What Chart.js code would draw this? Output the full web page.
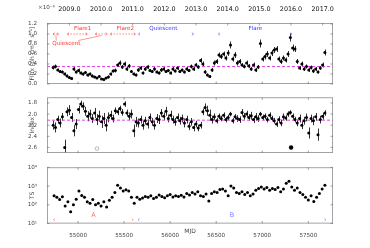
<!DOCTYPE html>
<html><head><meta charset="utf-8">
<script src="https://cdn.jsdelivr.net/npm/chart.js@4"></script>
<style>
html,body{margin:0;padding:0;background:#fff;}
#wrap{position:relative;width:370px;height:248px;overflow:hidden;background:#fff;}
canvas{position:absolute;left:0;}
</style></head><body>
<div id="wrap">
<canvas id="c1" width="370" height="92" style="top:0px"></canvas>
<canvas id="c2" width="370" height="70" style="top:92px"></canvas>
<canvas id="c3" width="370" height="86" style="top:162px"></canvas>
</div>
<script>
// ---------------- DATA ----------------
const mjd = [54730,54755,54780,54805,54830,54855,54880,54905,54930,54955,
54980,55005,55030,55055,55080,55105,55130,55155,55180,55205,
55230,55255,55280,55305,55330,55355,55380,55405,55430,55455,
55480,55505,55530,55555,55580,55605,55630,55655,55680,55705,
55730,55755,55780,55805,55830,55855,55880,55905,55930,55955,
55980,56005,56030,56055,56080,56105,56130,56155,56180,56205,
56230,56255,56280,56305,56330,56355,56380,56405,56430,56455,
56480,56505,56530,56555,56580,56605,56630,56655,56680,56705,
56730,56755,56780,56805,56830,56855,56880,56905,56930,56955,
56980,57005,57030,57055,57080,57105,57130,57155,57180,57205,
57230,57255,57280,57305,57330,57355,57380,57405,57430,57455,
57480,57505,57530,57555,57580,57605,57630,57655,57680];
// flux in units of 1e-6 ph cm^-2 s^-1
const fluxE6 = [0.33,0.35,0.28,0.25,0.24,0.2,0.16,0.13,0.11,0.3,
0.24,0.27,0.22,0.2,0.23,0.18,0.2,0.16,0.14,0.12,
0.15,0.1,0.09,0.12,0.14,0.2,0.26,0.27,0.38,0.42,
0.34,0.4,0.3,0.36,0.25,0.2,0.18,0.28,0.32,0.22,
0.3,0.34,0.27,0.25,0.3,0.24,0.22,0.28,0.3,0.25,
0.27,0.22,0.3,0.26,0.32,0.25,0.28,0.24,0.3,0.27,
0.35,0.3,0.38,0.34,0.47,0.4,0.24,0.18,0.15,0.28,
0.42,0.45,0.58,0.55,0.6,0.52,0.62,0.78,0.5,0.58,
0.42,0.45,0.38,0.35,0.42,0.36,0.3,0.38,0.28,0.34,
0.81,0.5,0.55,0.6,0.52,0.62,0.68,0.7,0.5,0.45,
0.52,0.48,0.6,0.93,0.72,0.7,0.45,0.32,0.4,0.3,
0.35,0.28,0.33,0.26,0.3,0.24,0.32,0.38,0.63];
const fluxErrE6 = [0.04,0.04,0.03,0.03,0.03,0.03,0.03,0.03,0.02,0.04,
0.03,0.04,0.03,0.03,0.03,0.03,0.03,0.03,0.02,0.02,
0.03,0.02,0.02,0.02,0.03,0.03,0.03,0.04,0.04,0.05,
0.04,0.05,0.04,0.04,0.03,0.03,0.03,0.04,0.04,0.03,
0.04,0.04,0.03,0.03,0.04,0.03,0.03,0.04,0.04,0.03,
0.03,0.03,0.04,0.03,0.04,0.03,0.03,0.03,0.04,0.03,
0.04,0.04,0.04,0.04,0.05,0.05,0.04,0.03,0.03,0.04,
0.05,0.05,0.05,0.05,0.05,0.05,0.06,0.07,0.05,0.06,
0.05,0.05,0.04,0.04,0.05,0.04,0.04,0.05,0.04,0.04,
0.08,0.05,0.06,0.06,0.05,0.06,0.06,0.06,0.05,0.05,
0.05,0.05,0.06,0.08,0.07,0.06,0.05,0.04,0.05,0.04,
0.04,0.04,0.04,0.04,0.04,0.03,0.04,0.05,0.06];
const photonIndex = [2.2,2.24,2.1,2.16,2.05,2.6,1.96,1.93,2.06,2.3,
2.18,1.92,1.82,1.86,1.95,2.04,2.0,2.08,1.98,2.1,
2.04,2.14,2.08,2.2,2.06,2.02,2.08,1.94,1.96,1.9,
1.97,1.82,1.98,2.04,2.0,2.3,2.14,2.16,2.1,2.2,
2.12,2.18,2.06,2.14,2.2,2.08,2.1,1.98,2.04,1.95,
2.08,2.02,2.1,2.14,2.06,2.12,2.08,2.16,2.1,2.22,
2.14,2.24,2.18,2.25,2.2,1.96,1.88,1.94,2.02,2.1,
2.05,2.12,2.04,2.08,2.02,2.1,2.06,2.0,2.12,2.05,
2.08,2.1,1.97,2.04,2.0,2.06,2.03,2.1,2.05,2.08,
2.0,2.06,2.04,2.1,2.02,2.08,2.12,2.18,2.1,2.16,
2.05,2.07,2.0,1.97,2.04,2.1,2.16,2.08,2.2,2.12,
2.06,2.34,2.08,2.12,2.05,2.37,2.1,2.04,1.98];
const indexErr = [0.08,0.09,0.07,0.08,0.07,0.14,0.08,0.09,0.08,0.1,
0.09,0.07,0.06,0.07,0.08,0.09,0.08,0.08,0.09,0.1,
0.1,0.11,0.1,0.11,0.09,0.08,0.07,0.06,0.06,0.05,
0.06,0.05,0.06,0.07,0.08,0.11,0.09,0.08,0.07,0.08,
0.07,0.08,0.07,0.07,0.08,0.08,0.08,0.07,0.07,0.08,
0.07,0.08,0.07,0.07,0.07,0.07,0.07,0.08,0.07,0.07,
0.07,0.07,0.06,0.06,0.06,0.06,0.07,0.09,0.1,0.07,
0.06,0.05,0.05,0.05,0.05,0.05,0.05,0.04,0.05,0.05,
0.06,0.06,0.06,0.06,0.06,0.06,0.07,0.06,0.07,0.06,
0.04,0.05,0.05,0.05,0.05,0.05,0.05,0.05,0.06,0.06,
0.06,0.05,0.05,0.04,0.05,0.05,0.06,0.07,0.07,0.07,
0.07,0.1,0.07,0.08,0.07,0.11,0.07,0.06,0.05];
const specialFilled = [{x:57313, y:2.6}];
const specialOpen = [{x:55206, y:2.62}];
const tsMjd = [54740,54770,54800,54830,54860,54890,54920,54950,54980,55010,
55040,55070,55100,55130,55160,55190,55220,55250,55280,55310,
55340,55370,55400,55430,55460,55490,55520,55550,55580,55610,
55640,55670,55700,55730,55760,55790,55820,55850,55880,55910,
55940,55970,56000,56030,56060,56090,56120,56150,56180,56210,
56240,56270,56300,56330,56360,56390,56420,56450,56480,56510,
56540,56570,56600,56630,56660,56690,56720,56750,56780,56810,
56840,56870,56900,56930,56960,56990,57020,57050,57080,57110,
57140,57170,57200,57230,57260,57290,57320,57350,57380,57410,
57440,57470,57500,57530,57560,57590,57620,57650,57680];
const tsValues = [300,250,190,270,85,145,43,100,200,540,
310,250,145,120,190,100,120,85,145,75,
175,250,450,1100,780,540,630,540,250,120,
250,200,230,280,250,300,220,250,330,280,
240,300,350,260,300,280,320,260,400,330,
450,380,500,300,280,380,160,400,500,450,
650,700,550,300,1000,800,450,400,500,350,
450,300,380,600,750,900,700,850,600,750,
650,850,500,700,1400,1800,900,600,800,450,
350,250,180,300,150,250,400,700,1100];
const mjdTicks = [55000,55500,56000,56500,57000,57500];
const yearTickMjd = [54906,55250,55593,55937,56281,56625,56968,57312,57656];
const yearLabels = ['2009.0','2010.0','2011.0','2012.0','2013.0','2014.0','2015.0','2016.0','2017.0'];
const fluxTicks = [0.0,0.2,0.4,0.6,0.8,1.0,1.2];
const indexTicks = [1.8,2.0,2.2,2.4,2.6];
const tsTicks = [10,100,1000,10000];
const tsTickLabels = ['10\u00B9','10\u00B2','10\u00B3','10\u2074'];
const fluxMean = 0.35;
const indexMean = 2.11;
// analysis phases (top panel)
const phaseNames = ['Quiescent','Flare1','Quiescent','Flare2','Quiescent','Flare'];
const phaseGroup = ['A','A','A','A','B','B'];
const phaseStart = [54729,54884,55188,55351,55655,56523];
const phaseEnd   = [54790,55101,55318,55622,56253,57323];
const phaseLabelMjd = [54873,55050,54873,55514,55926,56925];
// analysis periods (bottom panel)
const periodNames = ['A','B'];
const periodStart = [54732,55651];
const periodEnd   = [55600,57692];

// ---------------- STYLE / LAYOUT ----------------
const X_MIN = 54663, X_MAX = 57768;
const FONT = "'DejaVu Sans', sans-serif";
const groupColor = {A:'#ff3030', B:'#3a3aff'};
const groupLight = {A:'#ff6a6a', B:'#7a7aff'};
const tickFont = {family: FONT, size: 5.6};
const titleFont = {family: FONT, size: 6};

function fixedX(h, extra) {
  return Object.assign({
    type:'linear', position:'bottom', min:X_MIN, max:X_MAX,
    grid:{display:false}, border:{display:false},
    afterBuildTicks(s){ s.ticks = mjdTicks.map(v=>({value:v})); },
    afterFit(s){ s.height = h; s.paddingLeft = 0; s.paddingRight = 0; },
    ticks:{font:tickFont, color:'#444', padding:1, autoSkip:false, maxRotation:0, callback:v=>String(v)}
  }, extra||{});
}
function fixedY(title, pad) {
  return {
    grid:{display:false}, border:{display:false},
    afterFit(s){ s.width = 47; },
    title:{display:true, text:title, font:titleFont, color:'#444', padding:{top:pad, bottom:0}}
  };
}

function makePlugin(cfg) {
  return {
    id:'deco'+Math.random().toString(36).slice(2),
    beforeDatasetsDraw(chart){
      if (!cfg.err) return;
      const {ctx, chartArea:a} = chart;
      const xs = chart.scales.x, ys = chart.scales.y;
      const ds = chart.data.datasets[0].data;
      ctx.save();
      ctx.beginPath(); ctx.rect(a.left, a.top, a.right-a.left, a.bottom-a.top); ctx.clip();
      ctx.strokeStyle = '#000'; ctx.lineWidth = 0.8;
      ctx.beginPath();
      ds.forEach((p,i)=>{
        const e = cfg.err[i]; const x = Math.round(xs.getPixelForValue(p.x))+0.5;
        ctx.moveTo(x, ys.getPixelForValue(p.y-e));
        ctx.lineTo(x, ys.getPixelForValue(p.y+e));
      });
      ctx.stroke();
      ctx.restore();
    },
    afterDraw(chart){
      const {ctx, chartArea:a} = chart;
      const xs = chart.scales.x, ys = chart.scales.y;
      ctx.save();
      ctx.strokeStyle = '#8c8c8c'; ctx.lineWidth = 0.8;
      ctx.strokeRect(a.left+0.4, a.top+0.4, a.right-a.left-0.8, a.bottom-a.top-0.8);
      ctx.strokeStyle = '#666'; ctx.lineWidth = 0.6;
      ctx.beginPath();
      xs.ticks.forEach(t=>{
        const x = xs.getPixelForValue(t.value);
        ctx.moveTo(x, a.bottom); ctx.lineTo(x, a.bottom-2.5);
        if (!cfg.topYears) { ctx.moveTo(x, a.top); ctx.lineTo(x, a.top+2.5); }
      });
      if (cfg.topYears) {
        const xt = chart.scales.xTop;
        xt.ticks.forEach(t=>{ const x = xt.getPixelForValue(t.value); ctx.moveTo(x, a.top); ctx.lineTo(x, a.top+2.5); });
      }
      ys.ticks.forEach(t=>{
        const y = ys.getPixelForValue(t.value);
        ctx.moveTo(a.left, y); ctx.lineTo(a.left+2.5, y);
        ctx.moveTo(a.right, y); ctx.lineTo(a.right-2.5, y);
      });
      ctx.stroke();
      if (cfg.extra) cfg.extra(chart, ctx, a, xs, ys);
      ctx.restore();
    }
  };
}

function head(ctx, x, y, dir, s) {
  ctx.beginPath();
  ctx.moveTo(x - dir*s, y - s*0.8);
  ctx.lineTo(x, y);
  ctx.lineTo(x - dir*s, y + s*0.8);
  ctx.stroke();
}

const common = {
  responsive:false, animation:false, events:[],
  plugins:{legend:{display:false}, tooltip:{enabled:false}}
};
const pointStyle = {pointRadius:1.5, pointBackgroundColor:'#000', pointBorderWidth:0, showLine:false};
const meanStyle = {showLine:true, borderColor:'#e030e0', borderWidth:0.9, borderDash:[3,2], pointRadius:0};

// ---------------- PANEL 1: FLUX ----------------
new Chart(document.getElementById('c1'), {
  type:'scatter',
  data:{datasets:[
    Object.assign({data: mjd.map((m,i)=>({x:m, y:fluxE6[i]}))}, pointStyle),
    Object.assign({data:[{x:X_MIN,y:fluxMean},{x:X_MAX,y:fluxMean}]}, meanStyle)
  ]},
  options:Object.assign({}, common, {
    layout:{padding:{left:0, right:37, top:0, bottom:0}},
    scales:{
      x: fixedX(8),
      xTop: {
        type:'linear', position:'top', min:X_MIN, max:X_MAX,
        grid:{display:false}, border:{display:false},
        afterBuildTicks(s){ s.ticks = yearTickMjd.map(v=>({value:v})); },
        afterFit(s){ s.height = 23; s.paddingLeft = 0; s.paddingRight = 0; },
        ticks:{font:{family:FONT, size:6.4}, color:'#111', padding:1.5, autoSkip:false, maxRotation:0,
          callback:(v,i)=>yearLabels[i]}
      },
      y: Object.assign(fixedY('Flux [ph cm\u207B\u00B2 s\u207B\u00B9]', 28.5), {
        min:0, max:1.22,
        afterBuildTicks(s){ s.ticks = fluxTicks.map(v=>({value:v})); },
        ticks:{font:tickFont, color:'#444', padding:2, callback:v=>v.toFixed(1)}
      })
    }
  }),
  plugins:[makePlugin({err:fluxErrE6, topYears:true, extra(chart, ctx, a, xs, ys){
    ctx.fillStyle = '#444'; ctx.font = "5.6px " + FONT; ctx.textBaseline='middle'; ctx.textAlign='left';
    ctx.fillText('\u00D710\u207B\u2076', 38, 8);
    const yArrow = ys.getPixelForValue(1.0);
    const yText = ys.getPixelForValue(1.11);
    ctx.font = "5.6px " + FONT; ctx.textAlign='center';
    phaseNames.forEach((n,i)=>{
      const g = phaseGroup[i];
      const x0 = xs.getPixelForValue(phaseStart[i]), x1 = xs.getPixelForValue(phaseEnd[i]);
      ctx.strokeStyle = groupColor[g]; ctx.lineWidth = 0.6;
      if (g === 'A') {
        ctx.setLineDash([1.5,1.5]);
        ctx.beginPath(); ctx.moveTo(x0, yArrow); ctx.lineTo(x1, yArrow); ctx.stroke();
        ctx.setLineDash([]);
      }
      head(ctx, x0, yArrow, -1, 1.6);
      head(ctx, x1, yArrow, 1, 1.6);
      if (n !== 'Quiescent' || g === 'B') {
        ctx.fillStyle = groupColor[g];
        ctx.fillText(n, xs.getPixelForValue(phaseLabelMjd[i]), yText);
      }
    });
    const qx = xs.getPixelForValue(phaseLabelMjd[0]), qy = ys.getPixelForValue(0.81);
    ctx.fillStyle = groupColor.A; ctx.fillText('Quiescent', qx, qy);
    ctx.strokeStyle = groupColor.A; ctx.lineWidth = 0.5;
    ctx.beginPath();
    ctx.moveTo(qx-10, qy-3); ctx.lineTo((xs.getPixelForValue(phaseStart[0])+xs.getPixelForValue(phaseEnd[0]))/2, yArrow+1.5);
    ctx.moveTo(qx+12, qy-3); ctx.lineTo((xs.getPixelForValue(phaseStart[2])+xs.getPixelForValue(phaseEnd[2]))/2, yArrow+1.5);
    ctx.stroke();
  }})]
});

// ---------------- PANEL 2: INDEX ----------------
new Chart(document.getElementById('c2'), {
  type:'scatter',
  data:{datasets:[
    Object.assign({data: mjd.map((m,i)=>({x:m, y:photonIndex[i]}))}, pointStyle),
    Object.assign({data:[{x:X_MIN,y:indexMean},{x:X_MAX,y:indexMean}]}, meanStyle),
    {data:specialFilled, pointRadius:2.2, pointBackgroundColor:'#000', pointBorderWidth:0, showLine:false},
    {data:specialOpen, pointRadius:1.8, pointBackgroundColor:'rgba(0,0,0,0)', pointBorderColor:'#888', pointBorderWidth:0.6, showLine:false}
  ]},
  options:Object.assign({}, common, {
    layout:{padding:{left:0, right:37, top:2, bottom:0}},
    scales:{
      x: fixedX(9),
      y: Object.assign(fixedY('Index', 28.5), {
        min:1.7, max:2.7, reverse:true,
        afterBuildTicks(s){ s.ticks = indexTicks.map(v=>({value:v})); },
        ticks:{font:tickFont, color:'#444', padding:2, callback:v=>v.toFixed(1)}
      })
    }
  }),
  plugins:[makePlugin({err:indexErr})]
});

// ---------------- PANEL 3: TS ----------------
new Chart(document.getElementById('c3'), {
  type:'scatter',
  data:{datasets:[
    Object.assign({data: tsMjd.map((m,i)=>({x:m, y:tsValues[i]}))}, pointStyle)
  ]},
  options:Object.assign({}, common, {
    layout:{padding:{left:0, right:37, top:2, bottom:0}},
    scales:{
      x: fixedX(24.5, {title:{display:true, text:'MJD', font:{family:FONT, size:6}, color:'#444', padding:{top:0, bottom:12.5}}}),
      y: Object.assign(fixedY('TS', 28.5), {
        type:'logarithmic', min:10, max:10000,
        afterBuildTicks(s){ s.ticks = tsTicks.map(v=>({value:v})); },
        ticks:{font:tickFont, color:'#444', padding:2, callback:(v)=>tsTickLabels[tsTicks.indexOf(v)]}
      })
    }
  }),
  plugins:[makePlugin({extra(chart, ctx, a, xs, ys){
    const yMark = ys.getPixelForValue(16);
    const yLab = ys.getPixelForValue(26);
    ctx.font = "6.4px " + FONT; ctx.textAlign='center'; ctx.textBaseline='middle';
    periodNames.forEach((n,i)=>{
      const x0 = xs.getPixelForValue(periodStart[i]), x1 = xs.getPixelForValue(periodEnd[i]);
      ctx.strokeStyle = groupLight[n]; ctx.lineWidth = 0.6;
      head(ctx, x0, yMark, -1, 1.5);
      head(ctx, x1, yMark, 1, 1.5);
      ctx.fillStyle = groupLight[n];
      ctx.fillText(n, (x0+x1)/2, yLab);
    });
  }})]
});
</script>
</body></html>
